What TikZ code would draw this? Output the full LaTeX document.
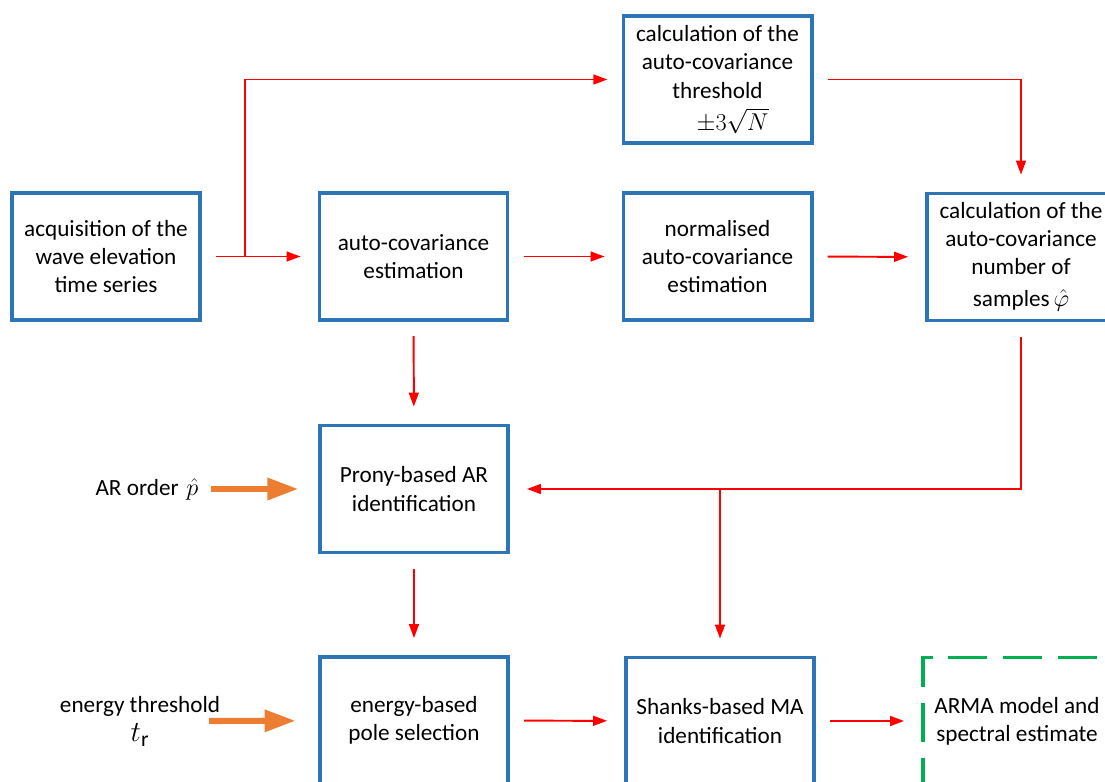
\documentclass[tikz,border=0pt]{standalone}
\usepackage{fontspec}
\setmainfont{Carlito}
\usetikzlibrary{arrows.meta, positioning}
\definecolor{cblue}{HTML}{2E75B6}
\definecolor{cred}{HTML}{FF0000}
\definecolor{corange}{HTML}{ED7D31}
\definecolor{cgreen}{HTML}{00B050}
\tikzset{
  every picture/.style={font=\fontsize{16.5}{20}\selectfont},
  box/.style={draw=#1, line width=2.8pt, align=center, inner sep=2pt, minimum width=4.7cm, minimum height=3.175cm},
  box/.default=cblue,
  arrow/.style={-{Triangle[length=10pt, width=7pt]}, draw=cred, line width=1.4pt},
  feed/.style={-{Triangle[length=22pt, width=15pt]}, draw=corange, line width=4.3pt},
  note/.style={align=center, inner sep=1pt},
}

\begin{document}
\begin{tikzpicture}[x=0.025cm, y=-0.025cm,
  gap/.style={shorten <=10pt, shorten >=12pt},
  r/.style={box=cgreen, dash pattern=on 28pt off 11pt}]
  \useasboundingbox (0,0) rectangle (1105,782);
  \clip (0,0) rectangle (1105,782);
  % top row
  \node[box] (acq) at (106,256.5) {acquisition of the\\wave elevation\\time series};
  \node[box] (acov) at (413.5,256.5) {auto-covariance\\estimation};
  \node[box] (norm) at (717.5,256.5) {normalised\\auto-covariance\\estimation};
  \node[box] (num) at (1021,257) {calculation of the\\auto-covariance\\number of\\[3pt]samples\,$\hat{\varphi}$};
  \node[box] (thr) at (717.5,79.5) {calculation of the\\auto-covariance\\threshold\\[3pt]\hspace*{1.3em}$\pm3\sqrt{N}$};
  % identification
  \node[box] (prony) at (414,489) {Prony-based AR\\identification};
  \node[box] (energy) at (414,720.5) {energy-based\\pole selection};
  \node[box] (shanks) at (720,721) {Shanks-based MA\\identification};
  \node[r] (arma) at (1017,721) {ARMA model and\\spectral estimate};
  % inputs
  \node[note, anchor=east] (arord) at (200,489) {AR order\,\,$\hat{p}$};
  \node[note] (ethr) at (140,721) {energy threshold\\[1pt]{\fontsize{22}{24}\selectfont$t_{\mathrm{r}}$}};
  % connectors
  \coordinate (split) at (245,256.5);
  \draw[arrow, gap] (acq) -- (acov);
  \draw[arrow, shorten >=10pt] (split) |- (thr.west);
  \draw[arrow, gap] (acov) -- (norm);
  \draw[arrow, gap] (norm) -- (num);
  \draw[arrow, gap] (thr.east) -| (num.north);
  \draw[arrow, gap] (num.south) |- (prony.east);
  \draw[arrow, shorten >=12pt] (shanks.north |- prony.east) -- (shanks.north);
  \draw[arrow, gap] (acov) -- (prony);
  \draw[arrow, gap] (prony) -- (energy);
  \draw[arrow, gap] (energy) -- (shanks);
  \draw[arrow, gap] (shanks) -- (arma);
  \draw[feed, shorten <=8pt, shorten >=14pt] (arord) -- (prony);
  \draw[feed, shorten >=16pt] ([xshift=-9pt]ethr.east) -- (energy);
\end{tikzpicture}
\end{document}
